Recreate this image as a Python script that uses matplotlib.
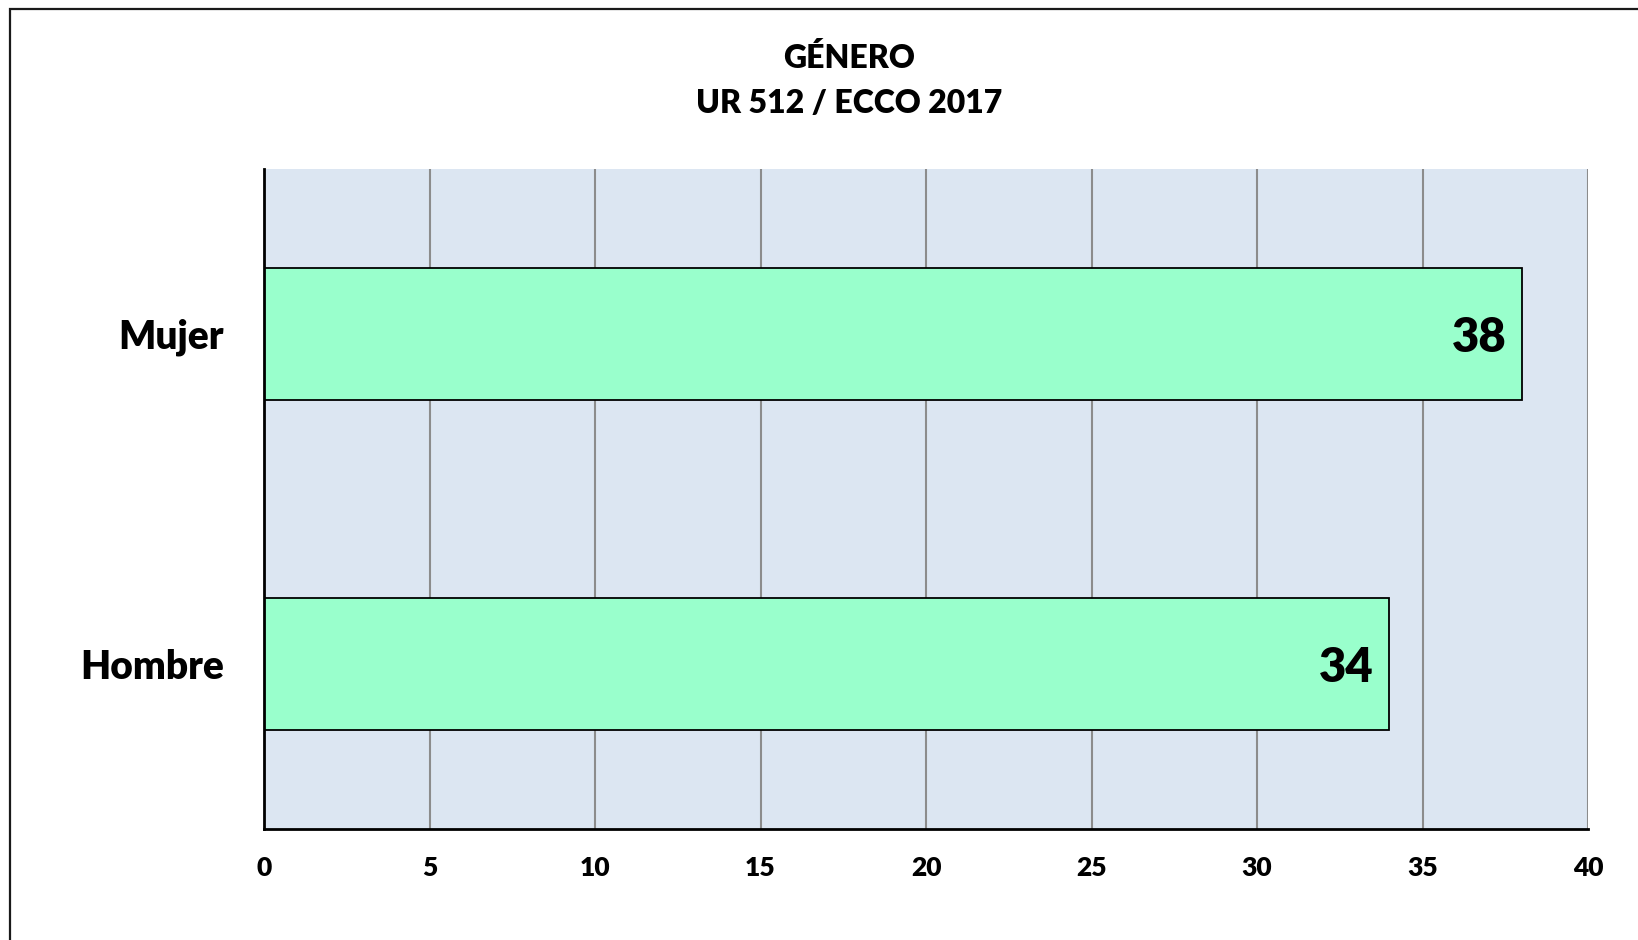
import matplotlib
matplotlib.use("Agg")
import matplotlib.pyplot as plt
from matplotlib.patches import Rectangle

categories = ["Hombre", "Mujer"]
values = [34, 38]
x_ticks = [0, 5, 10, 15, 20, 25, 30, 35, 40]

plt.rcParams['font.family'] = ['Lato', 'DejaVu Sans']
W = 'heavy'

fig = plt.figure(figsize=(16.38, 9.40), dpi=100)
fig.patch.set_facecolor('white')

# outer frame, runs off the right and bottom edge like the original
frame = Rectangle((9.5 / 1638, -0.05), 1.2, 1 - 8.5 / 940 + 0.05,
                  transform=fig.transFigure, fill=False,
                  edgecolor='#1a1a1a', linewidth=1.6, zorder=0)
fig.patches.append(frame)

ax = fig.add_axes([264 / 1638, 1 - 828.5 / 940, 1324 / 1638, 659.5 / 940])
ax.set_facecolor('#DCE6F2')

ypos = list(range(len(categories)))
ax.barh(ypos, values, height=0.4, color='#99FFCC',
        edgecolor='black', linewidth=1.3, zorder=3)

for y, v in zip(ypos, values):
    ax.annotate(str(v), xy=(v, y), xytext=(-11, -3), textcoords='offset points',
                ha='right', va='center', fontsize=34, fontweight=W, zorder=4)

ax.set_xlim(0, 40)
ax.set_ylim(-0.5, 1.5)
ax.set_xticks(x_ticks)
ax.set_xticklabels([str(t) for t in x_ticks], fontsize=19, fontweight=W)
ax.set_yticks(ypos)
ax.set_yticklabels(categories, fontsize=28, fontweight=W)
ax.tick_params(axis='x', length=0, pad=19.5)
ax.tick_params(axis='y', length=0, pad=29)

ax.xaxis.grid(True, color='#8c8c8c', linewidth=1.5, zorder=1)
ax.yaxis.grid(False)
ax.set_axisbelow(True)

for side in ['top', 'right']:
    ax.spines[side].set_visible(False)
for side in ['left', 'bottom']:
    ax.spines[side].set_linewidth(2)
    ax.spines[side].set_zorder(5)

fig.text(849 / 1638, 1 - 67.5 / 940, "GÉNERO", ha='center', va='baseline',
         fontsize=23, fontweight=W)
fig.text(849 / 1638, 1 - 113 / 940, "UR 512 / ECCO 2017", ha='center', va='baseline',
         fontsize=23, fontweight=W)

fig.savefig('out.png', dpi=100)
